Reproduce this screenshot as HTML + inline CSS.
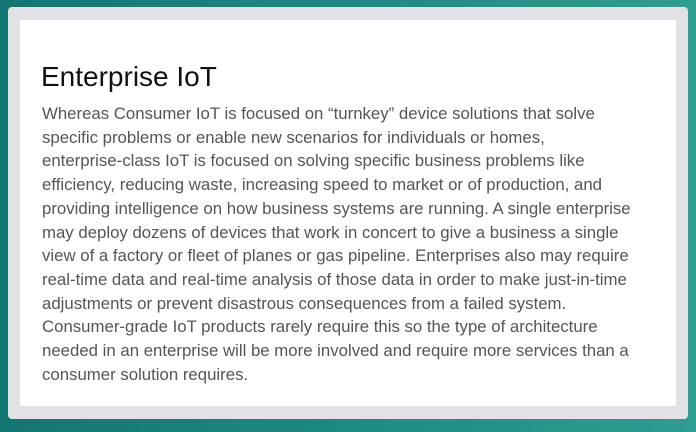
<!DOCTYPE html>
<html><head><style>
html,body{margin:0;padding:0;}
body{width:696px;height:432px;overflow:hidden;background:linear-gradient(90deg,#137572 0%,#1d8a83 50%,#2e9e90 100%);position:relative;font-family:"Liberation Sans",sans-serif;}
.outer{position:absolute;left:8px;top:7px;width:680px;height:412px;background:#e2e2e6;border-radius:4px;}
.inner{position:absolute;left:20px;top:20px;width:656px;height:386px;background:#fff;}
h1{position:absolute;left:41px;top:60px;margin:0;font-weight:normal;font-size:28px;color:#111;line-height:34px;}
p{position:absolute;left:42px;top:102px;margin:0;width:640px;font-size:16.8px;line-height:23.7px;color:#555;white-space:nowrap;}
</style></head><body>
<div class="outer"></div><div class="inner"></div>
<h1>Enterprise IoT</h1>
<p>Whereas Consumer IoT is focused on “turnkey” device solutions that solve<br>
specific problems or enable new scenarios for individuals or homes,<br>
enterprise-class IoT is focused on solving specific business problems like<br>
efficiency, reducing waste, increasing speed to market or of production, and<br>
providing intelligence on how business systems are running. A single enterprise<br>
may deploy dozens of devices that work in concert to give a business a single<br>
view of a factory or fleet of planes or gas pipeline. Enterprises also may require<br>
real-time data and real-time analysis of those data in order to make just-in-time<br>
adjustments or prevent disastrous consequences from a failed system.<br>
Consumer-grade IoT products rarely require this so the type of architecture<br>
needed in an enterprise will be more involved and require more services than a<br>
consumer solution requires.</p>
</body></html>
